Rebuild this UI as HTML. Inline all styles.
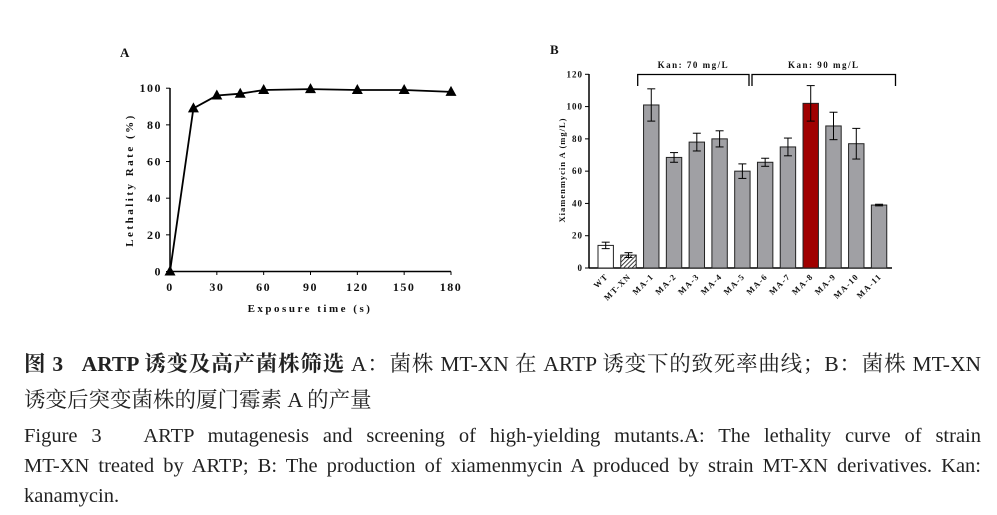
<!DOCTYPE html>
<html><head><meta charset="utf-8"><style>
body{margin:0;width:997px;height:515px;background:#fff;overflow:hidden;position:relative;font-family:"Liberation Serif","Noto Serif CJK SC",serif;}
.cap{position:absolute;left:24px;width:957px;text-align:justify;text-align-last:justify;color:#222;white-space:nowrap;line-height:1;}
.zh{font-size:21.5px;}
.en{font-size:20.5px;}
svg text{font-family:"Liberation Serif",serif;font-weight:bold;fill:#111;}
</style></head><body>
<svg id="chart" width="997" height="340" style="position:absolute;left:0;top:0"></svg>
<div class="cap zh" style="top:354px;"><b>图 3 &nbsp;&nbsp;ARTP 诱变及高产菌株筛选</b> A：菌株 MT-XN 在 ARTP 诱变下的致死率曲线；B：菌株 MT-XN</div>
<div class="cap zh" style="top:390px;text-align-last:left;">诱变后突变菌株的厦门霉素 A 的产量</div>
<div class="cap en" style="top:426px;">Figure 3 &nbsp;&nbsp;ARTP mutagenesis and screening of high-yielding mutants.A: The lethality curve of strain</div>
<div class="cap en" style="top:456px;">MT-XN treated by ARTP; B: The production of xiamenmycin A produced by strain MT-XN derivatives. Kan:</div>
<div class="cap en" style="top:486px;text-align-last:left;">kanamycin.</div>
<script>
const timeVals=[0,15,30,45,60,90,120,150,180];
const lethality=[0,89,96,97,99,99.5,99,99,98];
const xTicksA=[0,30,60,90,120,150,180];
const yTicksA=[0,20,40,60,80,100];
const strains=["WT","MT-XN","MA-1","MA-2","MA-3","MA-4","MA-5","MA-6","MA-7","MA-8","MA-9","MA-10","MA-11"];
const production=[14,8,101,68.5,78,80,60,65.5,75,102,88,77,39];
const errors=[2,1.5,10,3,5.5,5,4.5,2.5,5.5,11,8.5,9.5,0.5];
const yTicksB=[0,20,40,60,80,100,120];
const NS="http://www.w3.org/2000/svg";
const svg=document.getElementById('chart');
function mk(t,a,txt){const e=document.createElementNS(NS,t);for(const k in a)e.setAttribute(k,a[k]);if(txt!==undefined)e.textContent=txt;svg.appendChild(e);return e;}
const ax=v=>170+v/180*281, ay=v=>271.5-v/100*183.3;
let e;
e=mk('text',{x:120,y:57,'font-size':13},'A');


e=mk('line',{x1:170,y1:88,x2:170,y2:271.5,stroke:'#000','stroke-width':1.5});


e=mk('line',{x1:170,y1:271.5,x2:451,y2:271.5,stroke:'#000','stroke-width':1.5});


yTicksA.forEach(v=>{mk('line',{x1:166,y1:ay(v),x2:170,y2:ay(v),stroke:'#000'});
e=mk('text',{x:162,y:ay(v)+4,'font-size':12,'text-anchor':'end','letter-spacing':1.5},v);

});
xTicksA.forEach(v=>{mk('line',{x1:ax(v),y1:271.5,x2:ax(v),y2:275,stroke:'#000'});
e=mk('text',{x:ax(v),y:291,'font-size':12,'text-anchor':'middle','letter-spacing':1.5},v);

});
e=mk('text',{x:310,y:312,'font-size':11,'text-anchor':'middle','letter-spacing':2.5},'Exposure time (s)');


e=mk('text',{x:0,y:0,'font-size':11,'text-anchor':'middle','letter-spacing':2.5,transform:'translate(133,180) rotate(-90)'},'Lethality Rate (%)');


e=mk('polyline',{points:timeVals.map((t,i)=>ax(t)+','+ay(lethality[i])).join(' '),fill:'none',stroke:'#000','stroke-width':1.8});


timeVals.forEach((t,i)=>{const x=ax(t),y=ay(lethality[i]);
e=mk('polygon',{points:`${x},${y-6} ${x-5.5},${y+4} ${x+5.5},${y+4}`,fill:'#000'});

});
const bx=i=>605.7+i*22.78, by=v=>268-v/120*193.7;
e=mk('text',{x:550,y:54,'font-size':13},'B');


e=mk('line',{x1:589,y1:74,x2:589,y2:268,stroke:'#000','stroke-width':1.5});


e=mk('line',{x1:589,y1:268,x2:892,y2:268,stroke:'#000','stroke-width':1.5});


yTicksB.forEach(v=>{mk('line',{x1:585,y1:by(v),x2:589,y2:by(v),stroke:'#000'});
e=mk('text',{x:583,y:by(v)+3,'font-size':9,'text-anchor':'end','letter-spacing':1},v);

});
e=mk('text',{x:0,y:0,'font-size':8.5,'text-anchor':'middle','letter-spacing':1,transform:'translate(565,170) rotate(-90)'},'Xiamenmycin A (mg/L)');


const defs=mk('defs',{});
defs.innerHTML='<pattern id="hatch" width="3" height="3" patternUnits="userSpaceOnUse" patternTransform="rotate(45)"><rect width="3" height="3" fill="#fff"/><line x1="0" y1="0" x2="0" y2="3" stroke="#000" stroke-width="1.5"/></pattern>';
strains.forEach((s,i)=>{const x=bx(i),v=production[i],er=errors[i];
let fill=i===0?'#fff':i===1?'url(#hatch)':i===9?'#a00000':'#a0a0a4';
e=mk('rect',{x:x-7.7,y:by(v),width:15.4,height:268-by(v),fill:fill,stroke:'#222','stroke-width':1});


mk('line',{x1:x,y1:by(v+er),x2:x,y2:by(Math.max(v-er,0)),stroke:'#000'});
mk('line',{x1:x-4,y1:by(v+er),x2:x+4,y2:by(v+er),stroke:'#000'});
mk('line',{x1:x-4,y1:by(v-er),x2:x+4,y2:by(v-er),stroke:'#000'});
e=mk('text',{x:0,y:0,'font-size':8.5,'text-anchor':'end','letter-spacing':1.2,transform:`translate(${x+3},${277}) rotate(-45)`},s);

});
function bracket(x1,x2,label,name){e=mk('polyline',{points:`${x1},86 ${x1},74.5 ${x2},74.5 ${x2},86`,fill:'none',stroke:'#000','stroke-width':1.3});


e=mk('text',{x:(x1+x2)/2,y:68,'font-size':9,'text-anchor':'middle','letter-spacing':1.5},label);

}
bracket(637.7,749,'Kan: 70 mg/L','kan70-bracket');
bracket(752,895.5,'Kan: 90 mg/L','kan90-bracket');
</script>
</body></html>
